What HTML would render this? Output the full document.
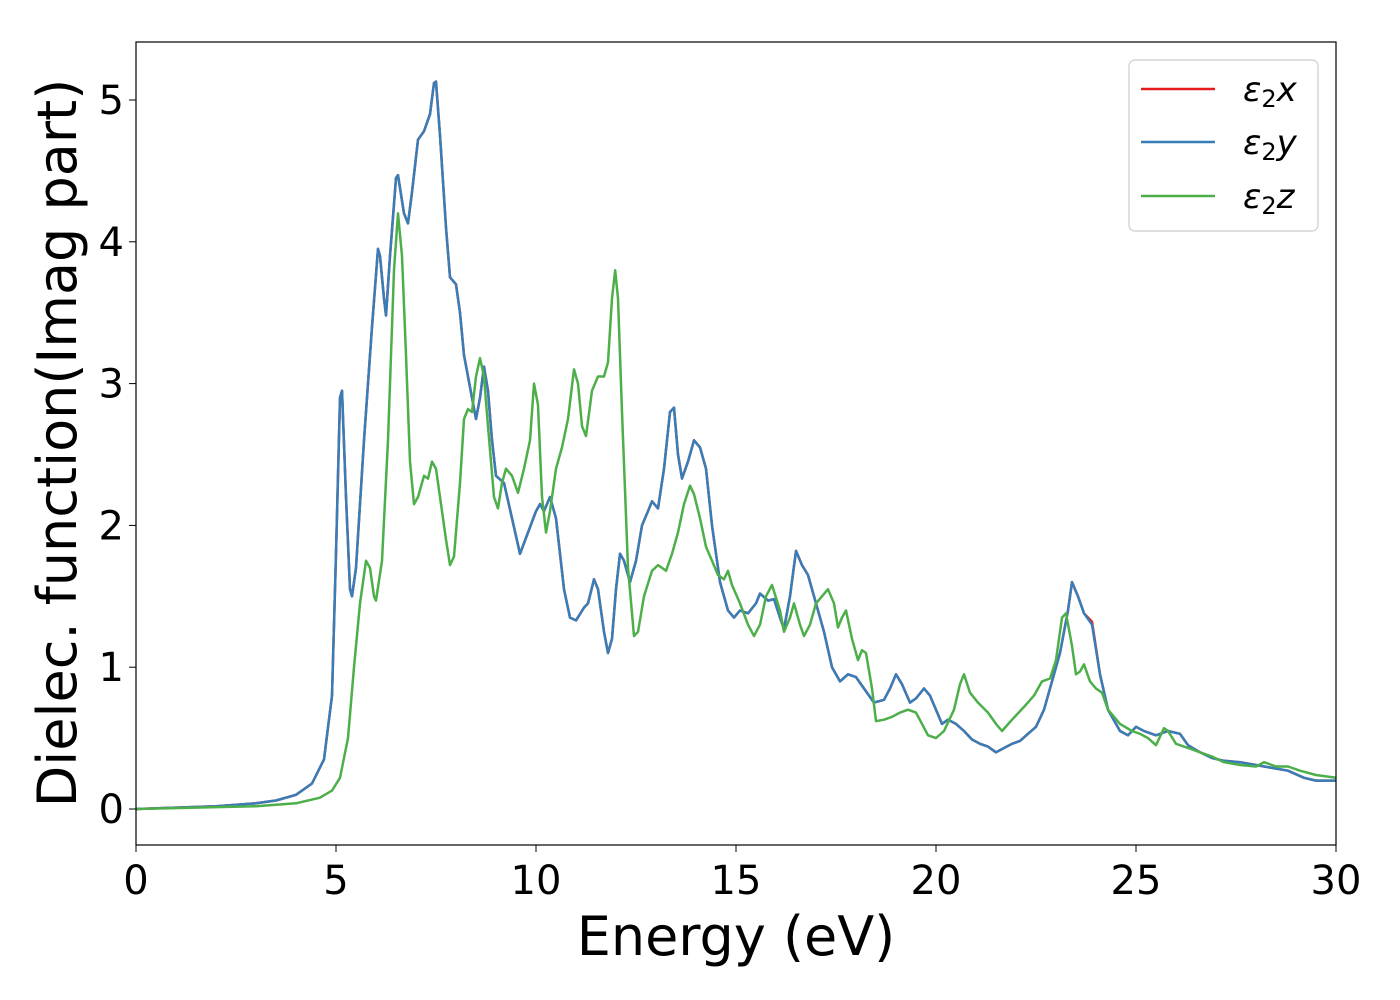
<!DOCTYPE html>
<html><head><meta charset="utf-8"><style>
body{margin:0;background:#fff;}
svg{display:block;font-family:"DejaVu Sans","Liberation Sans",sans-serif;}
</style></head><body>
<svg width="1400" height="1000" id="chart">
<rect x="0" y="0" width="1400" height="1000" fill="#fff"/>
<g id="marks"></g>
<rect x="136" y="42" width="1200" height="803" fill="none" stroke="#000" stroke-width="1.2"/>
<g id="ticks"></g>
<text x="736" y="955" font-size="54" text-anchor="middle">Energy (eV)</text>
<text transform="translate(76,443) rotate(-90)" font-size="54" text-anchor="middle">Dielec. function(Imag part)</text>
<g>
<rect x="1129" y="60" width="189" height="171" rx="6" fill="#fff" stroke="#ccc" stroke-width="1.2"/>
<line x1="1141" y1="89" x2="1215" y2="89" stroke="#e41a1c" stroke-width="2.5"/>
<line x1="1141" y1="142" x2="1215" y2="142" stroke="#377eb8" stroke-width="2.5"/>
<line x1="1141" y1="196" x2="1215" y2="196" stroke="#4daf4a" stroke-width="2.5"/>
<text x="1243" y="101" font-size="34" font-style="italic">ε<tspan font-style="normal" font-size="24" dy="6">2</tspan><tspan dy="-6">x</tspan></text>
<text x="1243" y="154" font-size="34" font-style="italic">ε<tspan font-style="normal" font-size="24" dy="6">2</tspan><tspan dy="-6">y</tspan></text>
<text x="1243" y="208" font-size="34" font-style="italic">ε<tspan font-style="normal" font-size="24" dy="6">2</tspan><tspan dy="-6">z</tspan></text>
</g>
</svg>
<script>
const xTicks=[0,5,10,15,20,25,30];
const yTicks=[0,1,2,3,4,5];
const energyXY=[0,2,3,3.5,4,4.4,4.7,4.9,5.0,5.1,5.15,5.25,5.35,5.4,5.5,5.7,5.9,6.05,6.1,6.2,6.25,6.35,6.5,6.55,6.7,6.8,6.9,7.05,7.2,7.35,7.45,7.5,7.6,7.75,7.85,8.0,8.1,8.2,8.3,8.4,8.5,8.6,8.7,8.8,8.9,9.0,9.2,9.4,9.6,9.8,10.0,10.1,10.2,10.35,10.5,10.7,10.85,11.0,11.2,11.3,11.45,11.55,11.7,11.8,11.9,12.0,12.1,12.2,12.35,12.5,12.65,12.8,12.9,13.05,13.2,13.35,13.45,13.55,13.65,13.8,13.95,14.1,14.25,14.4,14.6,14.8,14.95,15.1,15.3,15.5,15.6,15.8,15.95,16.1,16.2,16.35,16.5,16.65,16.8,17.0,17.2,17.4,17.6,17.8,18.0,18.2,18.45,18.7,18.85,19.0,19.15,19.35,19.5,19.7,19.85,20.0,20.15,20.3,20.5,20.7,20.9,21.1,21.3,21.5,21.7,21.9,22.1,22.3,22.5,22.7,22.9,23.1,23.3,23.4,23.55,23.7,23.9,24.1,24.3,24.6,24.8,25.0,25.2,25.5,25.8,26.1,26.3,26.6,26.9,27.2,27.6,28.0,28.4,28.8,29.2,29.5,30];
const eps2y=[0,0.02,0.04,0.06,0.1,0.18,0.35,0.8,1.8,2.9,2.95,2.2,1.55,1.5,1.7,2.6,3.4,3.95,3.9,3.6,3.48,3.9,4.45,4.47,4.2,4.13,4.35,4.72,4.78,4.9,5.12,5.13,4.75,4.1,3.75,3.7,3.5,3.2,3.05,2.9,2.75,2.9,3.12,2.95,2.6,2.35,2.3,2.05,1.8,1.95,2.1,2.15,2.1,2.2,2.05,1.55,1.35,1.33,1.42,1.45,1.62,1.55,1.25,1.1,1.2,1.55,1.8,1.75,1.6,1.75,2.0,2.1,2.17,2.12,2.4,2.8,2.83,2.5,2.33,2.45,2.6,2.55,2.4,2.0,1.6,1.4,1.35,1.4,1.38,1.45,1.52,1.47,1.48,1.35,1.27,1.5,1.82,1.72,1.65,1.45,1.25,1.0,0.9,0.95,0.93,0.85,0.75,0.77,0.85,0.95,0.88,0.75,0.78,0.85,0.8,0.7,0.6,0.63,0.6,0.55,0.49,0.46,0.44,0.4,0.43,0.46,0.48,0.53,0.58,0.7,0.9,1.1,1.4,1.6,1.5,1.38,1.3,0.95,0.7,0.55,0.52,0.58,0.55,0.52,0.55,0.53,0.45,0.4,0.36,0.34,0.33,0.31,0.29,0.27,0.22,0.2,0.2];
const eps2x=eps2y.map((v,i)=>energyXY[i]===23.9?1.32:v);
const energyZ=[0,3,4,4.6,4.9,5.1,5.3,5.45,5.6,5.75,5.85,5.95,6.0,6.15,6.3,6.45,6.55,6.65,6.75,6.85,6.95,7.05,7.2,7.3,7.4,7.5,7.6,7.75,7.85,7.95,8.1,8.2,8.3,8.4,8.5,8.6,8.7,8.8,8.95,9.05,9.15,9.25,9.4,9.55,9.7,9.85,9.95,10.05,10.15,10.25,10.35,10.5,10.65,10.8,10.95,11.05,11.15,11.25,11.4,11.55,11.7,11.8,11.9,11.98,12.05,12.15,12.3,12.45,12.55,12.7,12.9,13.05,13.15,13.25,13.4,13.55,13.7,13.85,13.95,14.1,14.25,14.4,14.55,14.7,14.8,14.9,15.1,15.3,15.45,15.6,15.75,15.9,16.1,16.2,16.35,16.45,16.6,16.7,16.85,17.0,17.15,17.3,17.45,17.55,17.65,17.75,17.9,18.05,18.15,18.25,18.4,18.5,18.7,18.9,19.1,19.3,19.5,19.65,19.8,20.0,20.2,20.45,20.6,20.7,20.85,21.05,21.3,21.5,21.65,21.9,22.2,22.45,22.65,22.85,23.0,23.15,23.25,23.4,23.5,23.6,23.7,23.85,24.0,24.15,24.3,24.6,24.9,25.1,25.3,25.5,25.7,25.8,26.0,26.3,26.6,26.9,27.2,27.6,28.0,28.2,28.5,28.8,29.1,29.5,30];
const eps2z=[0,0.02,0.04,0.08,0.13,0.22,0.5,1.0,1.45,1.75,1.7,1.5,1.47,1.75,2.6,3.8,4.2,3.9,3.2,2.45,2.15,2.2,2.35,2.33,2.45,2.4,2.2,1.9,1.72,1.78,2.3,2.75,2.82,2.8,3.05,3.18,3.05,2.7,2.2,2.12,2.3,2.4,2.35,2.23,2.4,2.6,3.0,2.85,2.2,1.95,2.1,2.4,2.55,2.75,3.1,3.0,2.7,2.63,2.95,3.05,3.05,3.15,3.6,3.8,3.6,2.8,1.7,1.22,1.25,1.5,1.68,1.72,1.7,1.68,1.8,1.95,2.15,2.28,2.22,2.05,1.85,1.75,1.65,1.62,1.68,1.58,1.45,1.3,1.22,1.3,1.5,1.58,1.4,1.25,1.35,1.45,1.3,1.22,1.3,1.45,1.5,1.55,1.45,1.28,1.35,1.4,1.2,1.05,1.12,1.1,0.85,0.62,0.63,0.65,0.68,0.7,0.68,0.6,0.52,0.5,0.55,0.7,0.88,0.95,0.82,0.75,0.68,0.6,0.55,0.63,0.72,0.8,0.9,0.92,1.05,1.35,1.38,1.15,0.95,0.97,1.02,0.9,0.85,0.82,0.7,0.6,0.55,0.53,0.5,0.45,0.57,0.55,0.46,0.43,0.4,0.37,0.33,0.31,0.3,0.33,0.3,0.3,0.27,0.24,0.22];
const X0=136,X1=1336,xMin=0,xMax=30;
const Y0=809,yPer=141.8;
function sx(v){return X0+(v-xMin)/(xMax-xMin)*(X1-X0);}
function sy(v){return Y0-v*yPer;}
const NS="http://www.w3.org/2000/svg";
const marks=document.getElementById('marks');
function series(xs,ys,color,name){
  const p=document.createElementNS(NS,'path');
  p.setAttribute('d',xs.map((x,i)=>(i?'L':'M')+sx(x).toFixed(1)+','+sy(ys[i]).toFixed(1)).join(''));
  p.setAttribute('fill','none');p.setAttribute('stroke',color);p.setAttribute('stroke-width','2.5');
  p.setAttribute('stroke-linejoin','round');
  
  
  marks.appendChild(p);
}
series(energyXY,eps2x,'#e41a1c','series-eps2x');
series(energyXY,eps2y,'#377eb8','series-eps2y');
series(energyZ,eps2z,'#4daf4a','series-eps2z');
const tg=document.getElementById('ticks');
xTicks.forEach(t=>{
  const l=document.createElementNS(NS,'line');
  l.setAttribute('x1',sx(t));l.setAttribute('x2',sx(t));l.setAttribute('y1',845);l.setAttribute('y2',852);l.setAttribute('stroke','#000');
  
  
  tg.appendChild(l);
  const tx=document.createElementNS(NS,'text');
  tx.setAttribute('x',sx(t));tx.setAttribute('y',894);tx.setAttribute('font-size','40');tx.setAttribute('text-anchor','middle');
  tx.textContent=t;
  
  
  tg.appendChild(tx);
});
yTicks.forEach(t=>{
  const l=document.createElementNS(NS,'line');
  l.setAttribute('x1',129);l.setAttribute('x2',136);l.setAttribute('y1',sy(t));l.setAttribute('y2',sy(t));l.setAttribute('stroke','#000');
  
  
  tg.appendChild(l);
  const tx=document.createElementNS(NS,'text');
  tx.setAttribute('x',124);tx.setAttribute('y',sy(t)+14);tx.setAttribute('font-size','40');tx.setAttribute('text-anchor','end');
  tx.textContent=t;
  
  
  tg.appendChild(tx);
});
</script>
</body></html>
